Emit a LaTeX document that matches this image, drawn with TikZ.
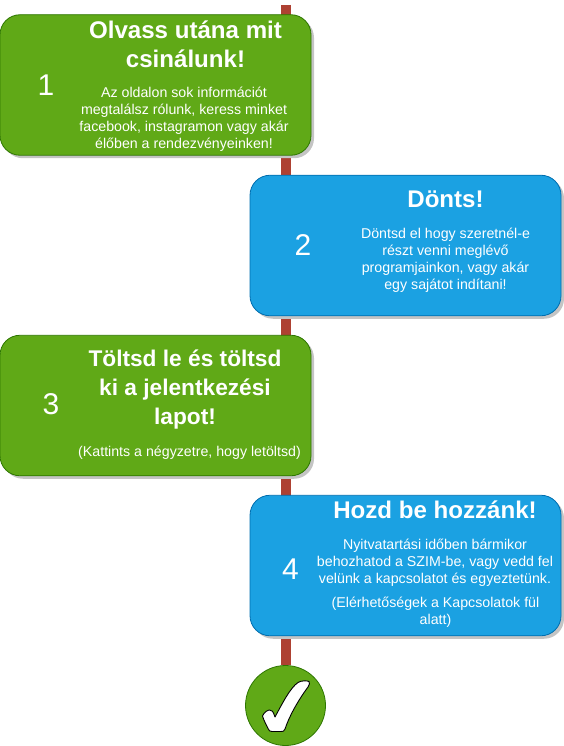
\documentclass[tikz,border=0pt]{standalone}
\usepackage{fontspec}
\setmainfont{Liberation Sans}
\usetikzlibrary{shadows,backgrounds}
\definecolor{gfill}{HTML}{60A917}
\definecolor{gline}{HTML}{2D7600}
\definecolor{bfill}{HTML}{1BA1E2}
\definecolor{bline}{HTML}{006EAF}
\definecolor{flowc}{HTML}{AE4132}
\definecolor{shadowc}{HTML}{C4C4C4}
\tikzset{
  x=1pt,y=-1pt,
  card/.style={rounded corners=20pt,minimum width=311pt,minimum height=140.5pt,inner sep=0pt,line width=0.8pt,
    general shadow={shadow xshift=3pt,shadow yshift=-3pt,fill=shadowc}},
  gcard/.style={card,draw=gline,fill=gfill},
  bcard/.style={card,draw=bline,fill=bfill},
  ttl/.style={text=white,font=\fontsize{24.1}{28.6}\selectfont\bfseries,align=center,inner sep=0pt},
  ttlb/.style={text=white,font=\fontsize{22.7}{29.4}\selectfont\bfseries,align=center,inner sep=0pt},
  body/.style={text=white,font=\fontsize{14.2}{17}\selectfont,align=center,inner sep=0pt},
  num/.style={text=white,font=\fontsize{30}{36}\selectfont,inner sep=0pt},
  flow/.style={draw=flowc,line width=10pt},
}
\begin{document}
\begin{tikzpicture}
\useasboundingbox (0,0) rectangle (563,746);
\coordinate (top) at (285.5,5);
\node[gcard] (c1) at (155.5,85) {};
\node[bcard] (c2) at (405.5,245.5) {};
\node[gcard] (c3) at (155.5,405.5) {};
\node[bcard] (c4) at (405.5,565.5) {};
\node[circle,minimum size=80pt,inner sep=0pt,draw=gline,fill=gfill,line width=0.8pt] (check) at (285.5,705.5) {};
\begin{scope}[on background layer]
  \draw[flow] (top) -- (check);
\end{scope}
\draw[fill=white,draw=black,line width=0.9pt,line join=round]
  (262.5,716) .. controls (264,712) and (268,710) .. (269.5,710) .. controls (272,710) and (273,711) .. (275,717)
  .. controls (282,704) and (290,688) .. (298,682.5) .. controls (301,680.5) and (307,680.5) .. (309,681.5)
  .. controls (310,683) and (309.5,685) .. (308,687) .. controls (297,702) and (289,717) .. (285,729)
  .. controls (284,731.5) and (283,731.5) .. (281,731.5) -- (272,731.5)
  .. controls (270,731.5) and (269,731) .. (268,728.5) .. controls (266,724) and (264,721) .. (262.5,716) -- cycle;
\node[ttl] (t1) at (185.5,44.5) {Olvass utána mit\\csinálunk!};
\node[num] (n1) at (46,85.5) {1};
\node[body] (b1) at (184,119.5) {Az oldalon sok információt\\megtalálsz rólunk, keress minket\\facebook, instagramon vagy akár\\élőben a rendezvényeinken!};
\node[ttl] (t2) at (445.5,199.5) {Dönts!};
\node[num] (n2) at (303,245) {2};
\node[body] (b2) at (445.5,260) {Döntsd el hogy szeretnél-e\\részt venni meglévő\\programjainkon, vagy akár\\egy sajátot indítani!};
\node[ttlb] (t3) at (185,389.5) {Töltsd le és töltsd\\ki a jelentkezési\\lapot!};
\node[num] (n3) at (51,404.5) {3};
\node[body] (b3) at (189.5,452.5) {(Kattints a négyzetre, hogy letöltsd)};
\node[ttl] (t4) at (435,509.5) {Hozd be hozzánk!};
\node[num] (n4) at (290.5,569.5) {4};
\node[body] (b4) at (435,562.5) {Nyitvatartási időben bármikor\\behozhatod a SZIM-be, vagy vedd fel\\velünk a kapcsolatot és egyeztetünk.};
\node[body] (b5) at (435.5,612.5) {(Elérhetőségek a Kapcsolatok fül\\alatt)};
\end{tikzpicture}
\end{document}
